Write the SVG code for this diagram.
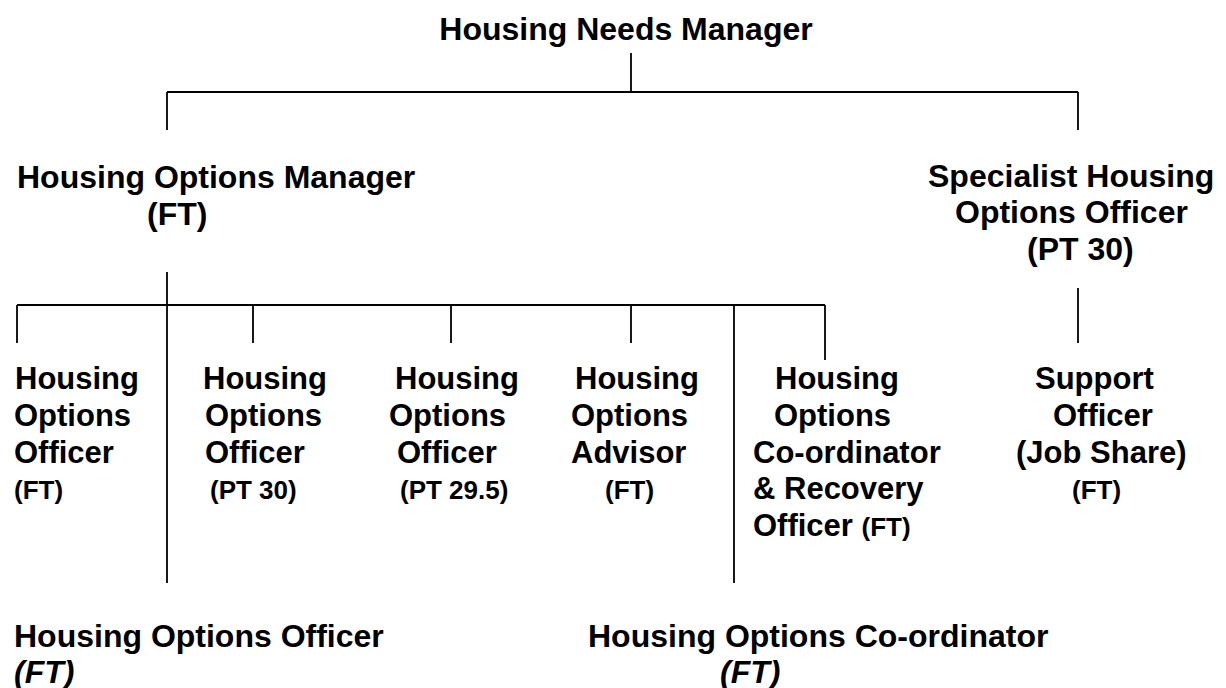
<svg xmlns="http://www.w3.org/2000/svg" width="1226" height="688" viewBox="0 0 1226 688">
<style>
  text { font-family: "Liberation Sans", Arial, sans-serif; font-weight: bold; fill: #000; }
  .h { font-size: 32px; }
  .c { font-size: 31px; }
  .s { font-size: 26px; }
  .i { font-style: italic; }
  .ln { stroke: #000; stroke-width: 1.8; fill: none; }
</style>
<rect width="1226" height="688" fill="#fff"/>
<g id="connectors">
  <path class="ln" d="M631 53 V92 M167 92 H1078 M167 92 V130 M1078 92 V130"/>
  <path class="ln" d="M1078 288 V343"/>
  <path class="ln" d="M167 272 V583 M17 305 H825 M17 305 V343 M253 305 V343 M451 305 V343 M631 305 V343 M825 305 V360 M734 305 V583"/>
</g>
<g id="housing-needs-manager">
  <text class="h" x="626" y="40" text-anchor="middle">Housing Needs Manager</text>
</g>
<g id="housing-options-manager">
  <text class="h" x="17" y="188">Housing Options Manager</text>
  <text class="h" x="147" y="225">(FT)</text>
</g>
<g id="specialist-housing-options-officer">
  <text class="h" x="928" y="187">Specialist Housing</text>
  <text class="h" x="955" y="223">Options Officer</text>
  <text class="h" x="1027" y="260">(PT 30)</text>
</g>
<g id="hoo-ft">
  <text class="c" x="15" y="389">Housing</text>
  <text class="c" x="14" y="426">Options</text>
  <text class="c" x="14" y="463">Officer</text>
  <text class="s" x="14" y="499">(FT)</text>
</g>
<g id="hoo-pt30">
  <text class="c" x="203" y="389">Housing</text>
  <text class="c" x="205" y="426">Options</text>
  <text class="c" x="205" y="463">Officer</text>
  <text class="s" x="210" y="499">(PT 30)</text>
</g>
<g id="hoo-pt295">
  <text class="c" x="395" y="389">Housing</text>
  <text class="c" x="389" y="426">Options</text>
  <text class="c" x="397" y="463">Officer</text>
  <text class="s" x="400" y="499">(PT 29.5)</text>
</g>
<g id="hoa-ft">
  <text class="c" x="575" y="389">Housing</text>
  <text class="c" x="571" y="426">Options</text>
  <text class="c" x="571" y="463">Advisor</text>
  <text class="s" x="605" y="499">(FT)</text>
</g>
<g id="hoc-recovery">
  <text class="c" x="775" y="389">Housing</text>
  <text class="c" x="774" y="426">Options</text>
  <text class="c" x="753" y="463">Co-ordinator</text>
  <text class="c" x="753" y="499">&amp; Recovery</text>
  <text class="c" x="753" y="536">Officer <tspan class="s">(FT)</tspan></text>
</g>
<g id="support-officer">
  <text class="c" x="1035" y="389">Support</text>
  <text class="c" x="1053" y="426">Officer</text>
  <text class="c" x="1016" y="463">(Job Share)</text>
  <text class="s" x="1072" y="499">(FT)</text>
</g>
<g id="housing-options-officer-bottom">
  <text class="h" x="14" y="647">Housing Options Officer</text>
  <text class="h i" x="14" y="683">(FT)</text>
</g>
<g id="housing-options-coordinator-bottom">
  <text class="h" x="588" y="647">Housing Options Co-ordinator</text>
  <text class="h i" x="720" y="683">(FT)</text>
</g>
</svg>
